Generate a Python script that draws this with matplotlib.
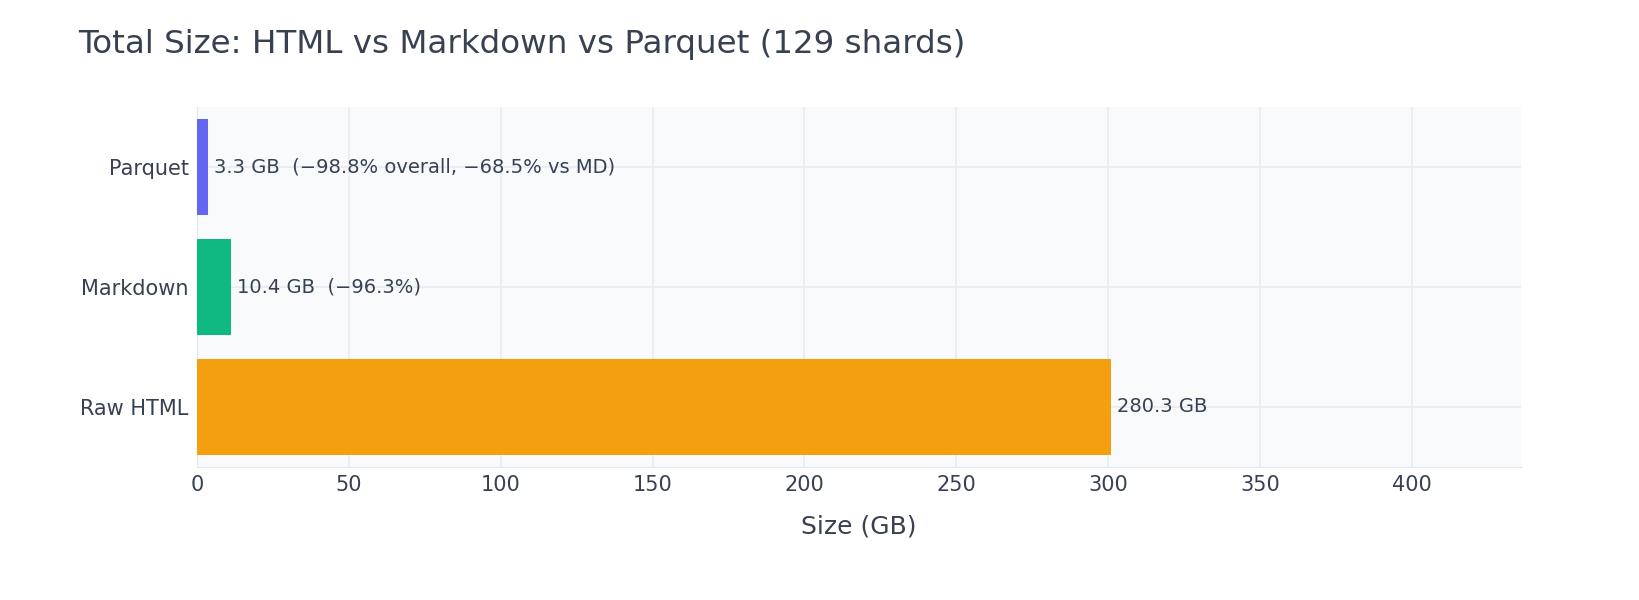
import matplotlib
matplotlib.use("Agg")
import matplotlib.pyplot as plt

categories = ["Raw HTML", "Markdown", "Parquet"]
sizes = [301.0, 11.2, 3.55]
labels = ["280.3 GB", "10.4 GB  (\u221296.3%)", "3.3 GB  (\u221298.8% overall, \u221268.5% vs MD)"]
colors = ["#F39F0F", "#10B981", "#6366F1"]
xticks = [0, 50, 100, 150, 200, 250, 300, 350, 400]

tc = "#374151"
fig = plt.figure(figsize=(16.4, 6), dpi=100)
ax = fig.add_axes([197/1640, 1-467/600, (1521-197)/1640, 360/600])
ax.set_facecolor("#F8FAFC")
ax.barh(range(len(categories)), sizes, height=0.8, color=colors, zorder=3)
for i, (v, t) in enumerate(zip(sizes, labels)):
    ax.text(v + 2, i, t, va="center", ha="left", fontsize=14, color=tc, zorder=4)
ax.set_xlim(0, 436)
ax.set_ylim(-0.5, 2.5)
ax.set_yticks(range(len(categories)))
ax.set_yticklabels(categories, fontsize=15, color=tc)
ax.set_xticks(xticks)
ax.set_xticklabels([str(x) for x in xticks], fontsize=15, color=tc)
ax.tick_params(length=0, pad=6)
ax.grid(True, color="#E8EBEF", linewidth=1.2, zorder=0)
for s in ["top", "right"]:
    ax.spines[s].set_visible(False)
ax.spines["left"].set_color("#E2E5EA")
ax.spines["bottom"].set_color("#E2E5EA")
ax.set_xlabel("Size (GB)", fontsize=18, color=tc, labelpad=14)
fig.text(78/1640, 1-44/600, "Total Size: HTML vs Markdown vs Parquet (129 shards)",
         fontsize=23.4, color=tc, va="center", ha="left")
fig.savefig("out.png", dpi=100, facecolor="white")
